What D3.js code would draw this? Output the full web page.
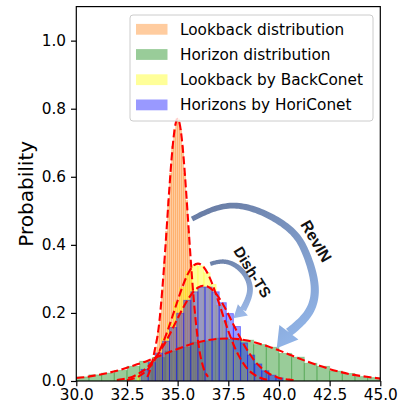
<!DOCTYPE html>
<html><head><meta charset="utf-8">
<title>Lookback and horizon distributions</title>
<script src="https://d3js.org/d3.v7.min.js"></script>
<style>
  body { margin: 0; background: #fff; }
  text { font-family: "DejaVu Sans", sans-serif; }
</style>
</head>
<body>
<svg width="403" height="413"></svg>
<script>
// ticks
const xTicks = [30, 32.5, 35, 37.5, 40, 42.5, 45];
const yTicks = [0, 0.2, 0.4, 0.6, 0.8, 1.0];

const seriesNames = ["Lookback distribution", "Horizon distribution", "Lookback by BackConet", "Horizons by HoriConet"];
const seriesColors = ["#ff7f0e", "green", "yellow", "blue"];

// histogram heights, first bin edge and bin width per series
const lookbackStart = 33.6, lookbackWidth = 0.1;
const lookbackHist = [0.030, 0.045, 0.070, 0.100, 0.145, 0.200, 0.270, 0.350, 0.440, 0.530,
  0.610, 0.690, 0.740, 0.770, 0.770, 0.740, 0.690, 0.610, 0.530, 0.440,
  0.350, 0.270, 0.200, 0.145, 0.100, 0.065, 0.040, 0.025];

const horizonStart = 30, horizonWidth = 0.625;
const horizonHist = [0.012, 0.018, 0.023, 0.031, 0.043, 0.058, 0.069, 0.088, 0.099, 0.114,
  0.118, 0.126, 0.122, 0.120, 0.107, 0.099, 0.081, 0.070, 0.052, 0.043,
  0.029, 0.022, 0.013, 0.010];

const backStart = 33.0, backWidth = 0.3;
const backHist = [0.018, 0.028, 0.055, 0.080, 0.126, 0.170, 0.232, 0.275, 0.322, 0.340,
  0.338, 0.318, 0.284, 0.222, 0.176, 0.120, 0.085, 0.049, 0.031, 0.015];

const horiStart = 33.2, horiWidth = 0.35;
const horiHist = [0.034, 0.054, 0.082, 0.117, 0.157, 0.199, 0.237, 0.262, 0.276, 0.276,
  0.262, 0.230, 0.198, 0.160, 0.112, 0.076, 0.050, 0.030, 0.017, 0.009];

// fitted density curves, [x, probability]
const lookbackCurve = [[33.5, 0.012], [33.6, 0.025], [33.7, 0.045], [33.8, 0.070], [33.9, 0.100],
  [34.0, 0.130], [34.1, 0.175], [34.2, 0.238], [34.3, 0.312], [34.4, 0.396], [34.5, 0.485],
  [34.6, 0.573], [34.7, 0.652], [34.8, 0.715], [34.9, 0.756], [35.0, 0.770], [35.1, 0.756],
  [35.2, 0.715], [35.3, 0.652], [35.4, 0.573], [35.5, 0.485], [35.6, 0.396], [35.7, 0.311],
  [35.8, 0.236], [35.9, 0.172], [36.0, 0.121], [36.1, 0.082], [36.2, 0.054], [36.3, 0.034],
  [36.4, 0.021], [36.5, 0.012]];

const horizonCurve = [[30, 0.009], [30.5, 0.012], [31, 0.017], [31.5, 0.023], [32, 0.030],
  [32.5, 0.039], [33, 0.049], [33.5, 0.059], [34, 0.071], [34.5, 0.083], [35, 0.094],
  [35.5, 0.105], [36, 0.114], [36.5, 0.120], [37, 0.124], [37.5, 0.125], [38, 0.123],
  [38.5, 0.118], [39, 0.110], [39.5, 0.101], [40, 0.090], [40.5, 0.078], [41, 0.066],
  [41.5, 0.055], [42, 0.045], [42.5, 0.035], [43, 0.027], [43.5, 0.020], [44, 0.015],
  [44.5, 0.011], [45, 0.007]];

const backCurve = [[32.5, 0.003], [32.75, 0.006], [33, 0.011], [33.25, 0.020], [33.5, 0.032],
  [33.75, 0.051], [34, 0.076], [34.25, 0.108], [34.5, 0.147], [34.75, 0.191], [35, 0.236],
  [35.25, 0.279], [35.5, 0.314], [35.75, 0.337], [36, 0.345], [36.25, 0.337], [36.5, 0.314],
  [36.75, 0.279], [37, 0.236], [37.25, 0.191], [37.5, 0.147], [37.75, 0.108], [38, 0.076],
  [38.25, 0.051], [38.5, 0.032], [38.75, 0.020], [39, 0.011], [39.25, 0.006], [39.5, 0.003]];

const horiCurve = [[32, 0.003], [32.25, 0.005], [32.5, 0.008], [32.75, 0.012], [33, 0.019],
  [33.25, 0.028], [33.5, 0.040], [33.75, 0.056], [34, 0.075], [34.25, 0.099], [34.5, 0.125],
  [34.75, 0.154], [35, 0.184], [35.25, 0.213], [35.5, 0.239], [35.75, 0.260], [36, 0.274],
  [36.25, 0.280], [36.5, 0.277], [36.75, 0.266], [37, 0.248], [37.25, 0.224], [37.5, 0.196],
  [37.75, 0.166], [38, 0.137], [38.25, 0.109], [38.5, 0.085], [38.75, 0.063], [39, 0.046],
  [39.25, 0.032], [39.5, 0.022], [39.75, 0.015], [40, 0.009], [40.25, 0.006], [40.5, 0.004],
  [40.75, 0.002]];

// annotation arrows, centreline in data units, last point is the tip
const revinArrow = [[35.71, 0.476], [37.91, 0.515], [40.25, 0.459], [41.30, 0.380],
  [41.76, 0.280], [41.45, 0.200], [40.49, 0.143], [39.89, 0.096]];
const dishArrow = [[36.61, 0.344], [37.40, 0.350], [38.20, 0.322], [38.57, 0.268],
  [38.22, 0.209], [37.75, 0.184]];

const svg = d3.select("svg");
const x = d3.scaleLinear().domain([30, 45]).range([76.3, 380.3]);
const y = d3.scaleLinear().domain([0, 1.1]).range([381, 6.6]);

svg.append("clipPath").attr("id", "plot")
  .append("rect").attr("x", 76.3).attr("y", 6.6).attr("width", 304).attr("height", 374.4);

const plot = svg.append("g").attr("clip-path", "url(#plot)");

// histograms: values, first edge, bin width, edge width, edge opacity
const hists = [
  [lookbackHist, lookbackStart, lookbackWidth, 0.5, 0.4],
  [horizonHist, horizonStart, horizonWidth, 1, 0.25],
  [backHist, backStart, backWidth, 0.8, 0.3],
  [horiHist, horiStart, horiWidth, 1, 0.4]
];
hists.forEach(([vals, start, w, sw, so], k) => {
  plot.append("g").selectAll("rect")
    .data(vals)
    .join("rect")
      .attr("x", (d, i) => x(start + i * w))
      .attr("width", (d, i) => x(start + (i + 1) * w) - x(start + i * w))
      .attr("y", d => y(d))
      .attr("height", d => y(0) - y(d))
      .attr("fill", seriesColors[k])
      .attr("fill-opacity", 0.4)
      .attr("stroke", seriesColors[k])
      .attr("stroke-opacity", so)
      .attr("stroke-width", sw);
});

// dashed fitted curves
const line = d3.line().x(d => x(d[0])).y(d => y(d[1])).curve(d3.curveMonotoneX);
[lookbackCurve, horizonCurve, backCurve, horiCurve].forEach(c => {
  plot.append("path")
    .attr("d", line(c))
    .attr("fill", "none")
    .attr("stroke", "red")
    .attr("stroke-width", 2.1)
    .attr("stroke-dasharray", "8,3.5");
});

// curved arrows
const defs = svg.append("defs");
function drawArrow(pts, id, w0, w1, headW, c0, c1) {
  const p = pts.map(d => [x(d[0]), y(d[1])]);
  const tip = p[p.length - 1], body = p.slice(0, -1);
  const tmp = svg.append("path")
    .attr("d", d3.line().curve(d3.curveNatural)(body))
    .attr("fill", "none");
  const node = tmp.node(), L = node.getTotalLength();
  const left = [], right = [];
  const N = 100;
  for (let i = 0; i <= N; i++) {
    const t = i / N;
    const a = node.getPointAtLength(Math.max(0, t * L - 0.5));
    const b = node.getPointAtLength(Math.min(L, t * L + 0.5));
    const m = node.getPointAtLength(t * L);
    const dx = b.x - a.x, dy = b.y - a.y;
    const len = Math.hypot(dx, dy) || 1;
    const nx = -dy / len, ny = dx / len;
    const w = (w0 + (w1 - w0) * t) / 2;
    left.push([m.x + nx * w, m.y + ny * w]);
    right.push([m.x - nx * w, m.y - ny * w]);
  }
  tmp.remove();
  const end = body[body.length - 1];
  const hx = tip[0] - end[0], hy = tip[1] - end[1];
  const hl = Math.hypot(hx, hy);
  const nx = -hy / hl, ny = hx / hl;
  const head = [[end[0] + nx * headW / 2, end[1] + ny * headW / 2], tip,
                [end[0] - nx * headW / 2, end[1] - ny * headW / 2]];

  const g = defs.append("linearGradient").attr("id", id)
    .attr("gradientUnits", "userSpaceOnUse")
    .attr("x1", body[0][0]).attr("y1", body[0][1])
    .attr("x2", tip[0]).attr("y2", tip[1]);
  g.append("stop").attr("offset", "0%").attr("stop-color", c0);
  g.append("stop").attr("offset", "100%").attr("stop-color", c1);

  const poly = d3.line();
  svg.append("path")
    .attr("d", poly(left.concat(right.reverse())) + "Z" + poly(head) + "Z")
    .attr("fill", `url(#${id})`);
}
drawArrow(revinArrow, "gRev", 5, 9, 24, "#6a7ea6", "#90b3e6");
drawArrow(dishArrow, "gDish", 4, 6.5, 15, "#6d82aa", "#9cb9e8");

svg.append("text")
  .attr("transform", `translate(${x(41.84)},${y(0.411)}) rotate(60)`)
  .attr("text-anchor", "middle").attr("dy", "0.35em")
  .style("font-family", "'Liberation Sans', Arial, sans-serif")
  .style("font-weight", "bold").style("font-size", "16px")
  .attr("fill", "#111")
  .attr("stroke", "#fff").attr("stroke-width", 3).attr("paint-order", "stroke")
  .text("RevIN");

svg.append("text")
  .attr("transform", `translate(${x(38.69)},${y(0.32)}) rotate(58)`)
  .attr("text-anchor", "middle").attr("dy", "0.35em")
  .style("font-family", "'Liberation Sans', Arial, sans-serif")
  .style("font-weight", "bold").style("font-size", "15px")
  .attr("fill", "#111")
  .text("Dish-TS");

// axes
const xAxis = svg.append("g").attr("transform", "translate(0,381)")
  .call(d3.axisBottom(x).tickValues(xTicks).tickFormat(d3.format(".1f")).tickSize(5.3).tickPadding(3));
const yAxis = svg.append("g").attr("transform", "translate(76.3,0)")
  .call(d3.axisLeft(y).tickValues(yTicks).tickFormat(d3.format(".1f")).tickSize(5.3).tickPadding(5));
[xAxis, yAxis].forEach(a => {
  a.select(".domain").remove();
  a.selectAll("line").attr("stroke", "#000").attr("stroke-width", 1.2);
  a.selectAll("text").style("font-family", "'DejaVu Sans', sans-serif").style("font-size", "15.3px").attr("fill", "#000");
});

svg.append("rect")
  .attr("x", 76.3).attr("y", 6.6).attr("width", 304).attr("height", 374.4)
  .attr("fill", "none").attr("stroke", "#000").attr("stroke-width", 1.2);

svg.append("text")
  .attr("transform", "translate(26,193.8) rotate(-90)")
  .attr("text-anchor", "middle").attr("dy", "0.35em")
  .style("font-size", "20px")
  .text("Probability");

// legend
const legend = svg.append("g");
legend.append("rect")
  .attr("x", 130).attr("y", 15).attr("width", 243).attr("height", 106)
  .attr("rx", 3)
  .attr("fill", "#fff").attr("fill-opacity", 0.8)
  .attr("stroke", "#ccc").attr("stroke-width", 1);
const rows = legend.selectAll("g.row")
  .data(seriesNames)
  .join("g")
    .attr("class", "row")
    .attr("transform", (d, i) => `translate(0,${29.3 + i * 25.2})`);
rows.append("rect")
  .attr("x", 136).attr("y", -5.4).attr("width", 31.5).attr("height", 10.8)
  .attr("fill", (d, i) => seriesColors[i]).attr("fill-opacity", 0.4);
rows.append("text")
  .attr("x", 180).attr("dy", "0.36em")
  .style("font-size", "15.3px")
  .text(d => d);
</script>
</body></html>
